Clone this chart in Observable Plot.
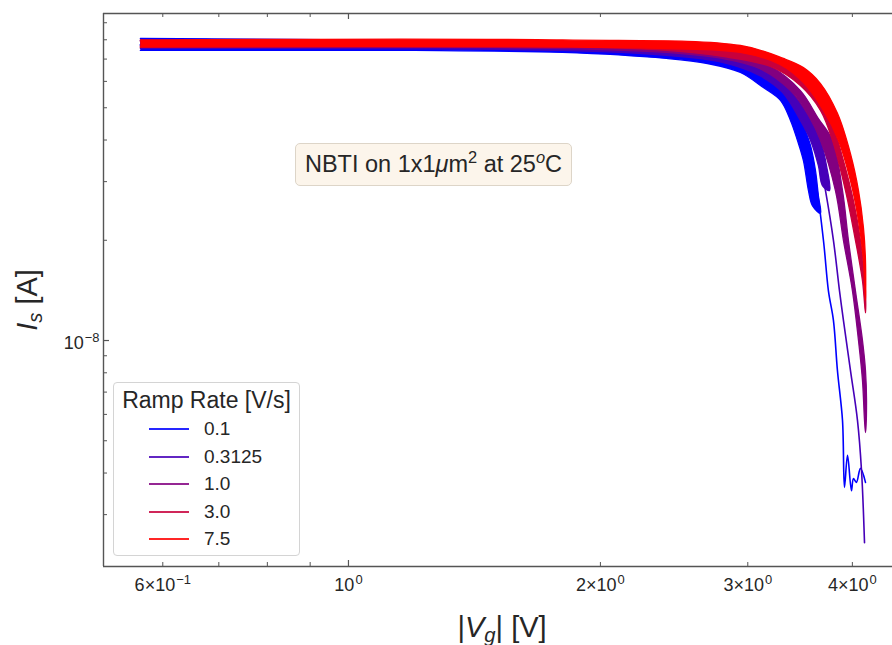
<!DOCTYPE html>
<html>
<head>
<meta charset="utf-8">
<script src="https://cdn.jsdelivr.net/npm/d3@7"></script>
<script src="https://cdn.jsdelivr.net/npm/@observablehq/plot@0.6"></script>
<style>
html, body { margin: 0; padding: 0; background: #fff; overflow: hidden; }
#wrap { position: relative; width: 892px; height: 645px; font-family: "Liberation Sans", Arial, sans-serif; color: #262626; }
#wrap svg { display: block; }
#legend { position: absolute; left: 113px; top: 382px; width: 187px; height: 174px; box-sizing: border-box;
  border: 1px solid #d4d4d4; border-radius: 4px; background: rgba(255,255,255,0.9); }
#legend .title { position: absolute; left: 0; width: 100%; top: 4px; text-align: center; font-size: 23px; line-height: 26px; }
#legend .sw { position: absolute; left: 35px; width: 40px; height: 2px; opacity: 0.85; }
#legend .lab { position: absolute; left: 90px; font-size: 19px; line-height: 22px; }
#note { position: absolute; left: 295px; top: 143px; width: 277px; height: 43px; box-sizing: border-box;
  background: #fcf5eb; border: 1px solid #ddd5c8; border-radius: 5px; font-size: 23.5px; line-height: 41px; text-align: center; white-space: nowrap; }
#note sup { font-size: 0.7em; line-height: 0; vertical-align: baseline; position: relative; top: -0.55em; }
</style>
</head>
<body>
<div id="wrap"></div>
<script>
// ---------- data ----------
const rateLabels = ["0.1", "0.3125", "1.0", "3.0", "7.5"];
const rateColors = ["#0000ff", "#4600b9", "#820080", "#c8003c", "#ff0000"];

const xTickValues = [0.6, 1, 2, 3, 4];
const xTickLabels = ["6\u00d710^\u22121", "10^0", "2\u00d710^0", "3\u00d710^0", "4\u00d710^0"];
const xMinorTicks = [0.6, 0.7, 0.8, 0.9, 2, 3, 4];
const xMajorTicks = [1];
const yTickValues = [1e-8];
const yTickLabels = ["10^\u22128"];
const yMinorTicks = [3e-9, 4e-9, 5e-9, 6e-9, 7e-9, 8e-9, 9e-9, 2e-8, 3e-8, 4e-8, 5e-8, 6e-8, 7e-8, 8e-8, 9e-8];

const xDomain = [0.5097, 4.467];
const yDomain = [2.096e-9, 9.594e-8];

// Ramp rate 0.1 V/s : bundle edges [|Vg|, Is] and longest sweep
const rate01_low = [[0.5641,7.43e-8],[0.8002,7.43e-8],[1.199,7.43e-8],[1.802,7.33e-8],[2.398,7.03e-8],[2.685,6.79e-8],[2.940,6.38e-8],[3.131,5.75e-8],[3.282,5.26e-8],[3.374,4.58e-8],[3.439,3.99e-8],[3.496,3.47e-8],[3.545,2.82e-8],[3.584,2.54e-8]];
const rate01_high = [[0.5641,8.07e-8],[1.199,7.96e-8],[1.802,7.80e-8],[2.398,7.53e-8],[2.798,7.18e-8],[3.097,6.65e-8],[3.300,5.87e-8],[3.421,5.08e-8],[3.496,4.42e-8],[3.565,3.85e-8],[3.614,3.24e-8],[3.643,2.72e-8],[3.664,2.41e-8]];
const rate01_longest = [[0.5641,7.74e-8],[1.199,7.64e-8],[1.802,7.53e-8],[2.398,7.28e-8],[2.940,6.74e-8],[3.300,5.63e-8],[3.496,4.27e-8],[3.614,3.02e-8],[3.694,2.00e-8],[3.745,1.41e-8],[3.797,1.15e-8],[3.839,8.13e-9],[3.893,5.75e-9],[3.914,3.62e-9],[3.947,4.52e-9],[3.990,3.54e-9],[4.012,3.85e-9],[4.045,3.75e-9],[4.090,4.13e-9],[4.147,3.75e-9]];

// Ramp rate 0.3125 V/s
const rate03_low = [[0.5641,7.53e-8],[1.802,7.43e-8],[2.398,7.18e-8],[2.798,6.84e-8],[3.097,6.25e-8],[3.300,5.56e-8],[3.467,4.58e-8],[3.565,3.99e-8],[3.643,3.35e-8],[3.684,2.92e-8]];
const rate03_high = [[0.5641,7.96e-8],[1.802,7.80e-8],[2.398,7.53e-8],[2.798,7.18e-8],[3.097,6.65e-8],[3.374,5.63e-8],[3.545,4.74e-8],[3.664,3.99e-8],[3.725,3.35e-8],[3.756,2.82e-8]];
const rate03_longest = [[0.5641,7.69e-8],[1.802,7.59e-8],[2.398,7.33e-8],[3.097,6.47e-8],[3.467,4.81e-8],[3.643,3.64e-8],[3.715,2.82e-8],[3.797,2.00e-8],[3.861,1.41e-8],[3.903,1.15e-8],[3.979,8.13e-9],[4.057,5.75e-9],[4.102,4.07e-9],[4.136,2.47e-9]];

// Ramp rate 1.0 V/s
const rate1_low = [[0.5641,7.59e-8],[1.802,7.53e-8],[2.398,7.33e-8],[2.798,7.03e-8],[3.097,6.56e-8],[3.374,5.63e-8],[3.545,4.74e-8],[3.664,3.99e-8],[3.818,2.82e-8],[3.903,2.00e-8],[4.001,1.41e-8],[4.068,1.00e-8],[4.113,7.58e-9],[4.136,5.75e-9],[4.147,5.29e-9]];
const rate1_high = [[0.5641,7.96e-8],[1.802,7.85e-8],[2.398,7.64e-8],[2.798,7.33e-8],[3.193,6.65e-8],[3.467,5.63e-8],[3.643,4.64e-8],[3.787,3.99e-8],[3.893,2.82e-8],[3.957,2.00e-8],[4.034,1.41e-8],[4.113,1.00e-8],[4.147,8.13e-9],[4.159,6.60e-9]];

// Ramp rate 3.0 V/s
const rate3_low = [[0.5641,7.64e-8],[1.802,7.64e-8],[2.398,7.43e-8],[2.798,7.13e-8],[3.193,6.65e-8],[3.467,5.83e-8],[3.664,4.91e-8],[3.787,3.99e-8],[3.925,2.82e-8],[4.034,2.00e-8],[4.113,1.51e-8],[4.147,1.21e-8]];
const rate3_high = [[0.5641,7.91e-8],[2.398,7.64e-8],[3.097,7.18e-8],[3.374,6.47e-8],[3.614,5.44e-8],[3.787,4.42e-8],[3.903,3.47e-8],[4.012,2.63e-8],[4.090,2.00e-8],[4.147,1.41e-8]];

// Ramp rate 7.5 V/s
const rate75_low = [[0.5641,7.61e-8],[1.802,7.61e-8],[2.398,7.53e-8],[2.940,7.33e-8],[3.282,6.74e-8],[3.496,5.95e-8],[3.694,4.91e-8],[3.850,3.99e-8],[3.979,3.02e-8],[4.068,2.29e-8],[4.124,1.74e-8],[4.147,1.32e-8]];
const rate75_high = [[0.5641,7.99e-8],[1.802,7.99e-8],[2.940,7.69e-8],[3.309,7.03e-8],[3.496,6.60e-8],[3.664,5.91e-8],[3.839,4.81e-8],[3.979,3.64e-8],[4.068,2.82e-8],[4.124,2.18e-8],[4.147,1.74e-8]];

// ---------- build ----------
const bands = [
  {rate: "0.1", low: rate01_low, high: rate01_high, longest: rate01_longest},
  {rate: "0.3125", low: rate03_low, high: rate03_high, longest: rate03_longest},
  {rate: "1.0", low: rate1_low, high: rate1_high},
  {rate: "3.0", low: rate3_low, high: rate3_high},
  {rate: "7.5", low: rate75_low, high: rate75_high}
];
const toRows = (rate, pts) => pts.map(([V, I]) => ({rate, V, I}));

const FH = 553, FW = 789;
const spine = "#555";
const marks = [];
for (const b of bands) {
  const poly = toRows(b.rate, [...b.low, ...b.high.slice().reverse()]);
  marks.push(Plot.line(poly, {x: "V", y: "I", z: "rate", fill: "rate", stroke: "rate", strokeWidth: 1.3, curve: "catmull-rom"}));
  if (b.longest) marks.push(Plot.line(toRows(b.rate, b.longest), {x: "V", y: "I", z: "rate", stroke: "rate", strokeWidth: 1.6, curve: "catmull-rom"}));
}
marks.push(
  Plot.ruleX(xMinorTicks, {insetTop: FH - 4, stroke: spine, strokeWidth: 1}),
  Plot.ruleX(xMinorTicks, {insetBottom: FH - 4, stroke: spine, strokeWidth: 1}),
  Plot.ruleX(xMajorTicks, {insetTop: FH - 6, stroke: spine, strokeWidth: 1.2}),
  Plot.ruleX(xMajorTicks, {insetBottom: FH - 6, stroke: spine, strokeWidth: 1.2}),
  Plot.ruleY(yMinorTicks, {insetRight: FW - 4, stroke: spine, strokeWidth: 1}),
  Plot.ruleY(yTickValues, {insetRight: FW - 6, stroke: spine, strokeWidth: 1.2}),
  Plot.ruleX([xDomain[0]], {stroke: spine, strokeWidth: 1.4}),
  Plot.ruleY([yDomain[0]], {stroke: spine, strokeWidth: 1.4}),
  Plot.ruleY([yDomain[1]], {stroke: spine, strokeWidth: 1.4}),
  Plot.axisX({ticks: xTickValues, tickFormat: d => xTickLabels[xTickValues.indexOf(d)], tickSize: 0, tickPadding: 12, fontSize: 18, label: null, color: "#262626"}),
  Plot.axisY({ticks: yTickValues, tickFormat: d => yTickLabels[yTickValues.indexOf(d)], tickSize: 0, tickPadding: 4, fontSize: 18, label: null, color: "#262626"})
);

const chart = Plot.plot({
  width: 892, height: 645,
  marginLeft: 103, marginRight: 0, marginTop: 13, marginBottom: 79,
  style: {fontFamily: "'Liberation Sans', Arial, sans-serif", background: "white", overflow: "hidden"},
  x: {type: "log", domain: xDomain},
  y: {type: "log", domain: yDomain},
  color: {type: "ordinal", domain: rateLabels, range: rateColors},
  marks
});

// superscripts in tick labels
chart.querySelectorAll("text").forEach(el => {
  const t = el.textContent;
  if (t.includes("^")) {
    const [base, exp] = t.split("^");
    el.textContent = "";
    el.appendChild(document.createTextNode(base));
    const sup = document.createElementNS("http://www.w3.org/2000/svg", "tspan");
    sup.setAttribute("dy", "-0.6em");
    sup.setAttribute("dx", "0.08em");
    sup.setAttribute("font-size", "0.72em");
    sup.textContent = exp;
    el.appendChild(sup);
  }
});
chart.querySelectorAll("[aria-label='y-axis tick label'] text").forEach(el => el.setAttribute("transform", (el.getAttribute("transform") || "") + " translate(0,3)"));

// axis titles
const svg = d3.select(chart);
const xl = svg.append("text").attr("x", 502).attr("y", 637).attr("text-anchor", "middle")
  .attr("font-size", 29).attr("fill", "#262626");
xl.append("tspan").text("|");
xl.append("tspan").attr("font-style", "italic").text("V");
xl.append("tspan").attr("font-style", "italic").attr("font-size", "0.7em").attr("dy", "0.25em").text("g");
xl.append("tspan").attr("dy", "-0.18em").text("| [V]");
const yl = svg.append("text").attr("transform", "translate(37,300) rotate(-90)").attr("text-anchor", "middle")
  .attr("font-size", 29).attr("fill", "#262626");
yl.append("tspan").attr("font-style", "italic").text("I");
yl.append("tspan").attr("font-style", "italic").attr("font-size", "0.7em").attr("dy", "0.25em").text("s");
yl.append("tspan").attr("dy", "-0.18em").text(" [A]");

const wrap = document.getElementById("wrap");
wrap.appendChild(chart);

// annotation box
const note = document.createElement("div");
note.id = "note";
note.innerHTML = "NBTI on 1x1<i>\u03bc</i>m<sup>2</sup> at 25<sup><i>o</i></sup>C";
wrap.appendChild(note);

// legend
const legend = document.createElement("div");
legend.id = "legend";
let html = '<div class="title">Ramp Rate [V/s]</div>';
rateLabels.forEach((lab, i) => {
  const cy = Math.round(46 + 27.5 * i);
  html += `<div class="sw" style="top:${cy - 1}px;background:${rateColors[i]}"></div>`;
  html += `<div class="lab" style="top:${cy - 11}px">${lab}</div>`;
});
legend.innerHTML = html;
wrap.appendChild(legend);
</script>
</body>
</html>
